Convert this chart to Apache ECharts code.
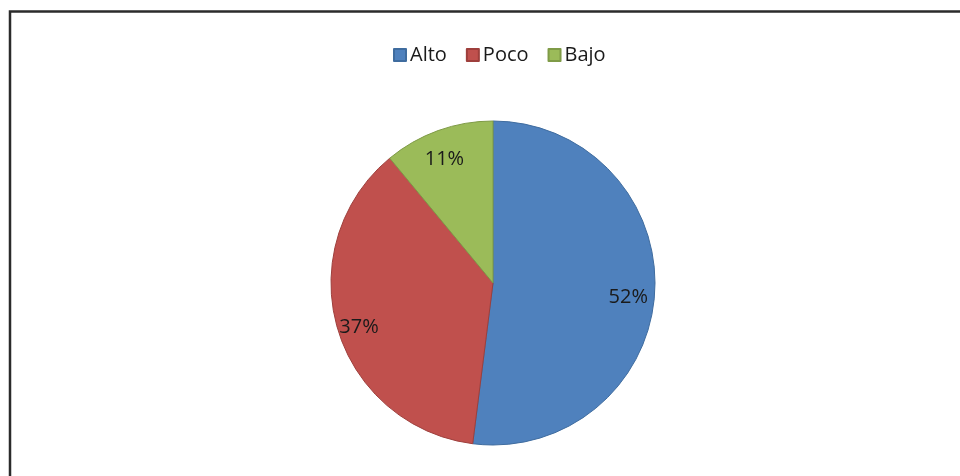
<!DOCTYPE html>
<html>
<head>
<meta charset="utf-8">
<script src="https://cdn.jsdelivr.net/npm/echarts@6/dist/echarts.min.js"></script>
<style>
  html, body { margin: 0; padding: 0; background: #fff; }
  #chart { width: 960px; height: 476px; }
</style>
</head>
<body>
<div id="chart"></div>
<script>
// Share of responses per level
const categories = ['Alto', 'Poco', 'Bajo'];
const shares = [52, 37, 11];
const colors = ['#4F81BD', '#C0504D', '#9BBB59'];
const edgeColors = ['#3F6C9F', '#9E3F3C', '#7F9B47'];

const font = '"Open Sans", "Noto Sans", sans-serif';
const center = [493, 283];
const R = 162;

const slices = categories.map((name, i) => ({
  name,
  value: shares[i],
  itemStyle: { color: colors[i], borderColor: edgeColors[i], borderWidth: 1 }
}));

// Transparent ring carrying the percentage labels near the rim
const labelRing = categories.map((name, i) => ({ name, value: shares[i] }));

const chart = echarts.init(document.getElementById('chart'), null, { renderer: 'canvas' });
chart.setOption({
  animation: false,
  backgroundColor: '#ffffff',
  graphic: [{
    type: 'rect',
    silent: true,
    shape: { x: 10, y: 11.5, width: 1000, height: 600 },
    style: { fill: 'none', stroke: '#2b2b2b', lineWidth: 2.5 }
  }],
  legend: {
    data: categories,
    top: 40,
    left: 388,
    icon: 'rect',
    itemWidth: 12,
    itemHeight: 12,
    itemGap: 19,
    textStyle: { fontFamily: font, fontSize: 20, color: '#1a1a1a', padding: [0, 0, 0, -1] }
  },
  series: [
    {
      type: 'pie',
      center,
      radius: [0, R],
      startAngle: 90,
      clockwise: true,
      silent: true,
      label: { show: false },
      labelLine: { show: false },
      data: slices
    },
    {
      type: 'pie',
      center: [491, 289],
      radius: [107, R],
      startAngle: 90,
      clockwise: true,
      silent: true,
      itemStyle: { color: 'rgba(0,0,0,0)' },
      label: {
        show: true,
        position: 'inside',
        formatter: p => p.value + '%',
        fontFamily: font,
        fontSize: 20,
        color: '#1a1a1a'
      },
      labelLine: { show: false },
      data: labelRing
    }
  ]
});
</script>
</body>
</html>
